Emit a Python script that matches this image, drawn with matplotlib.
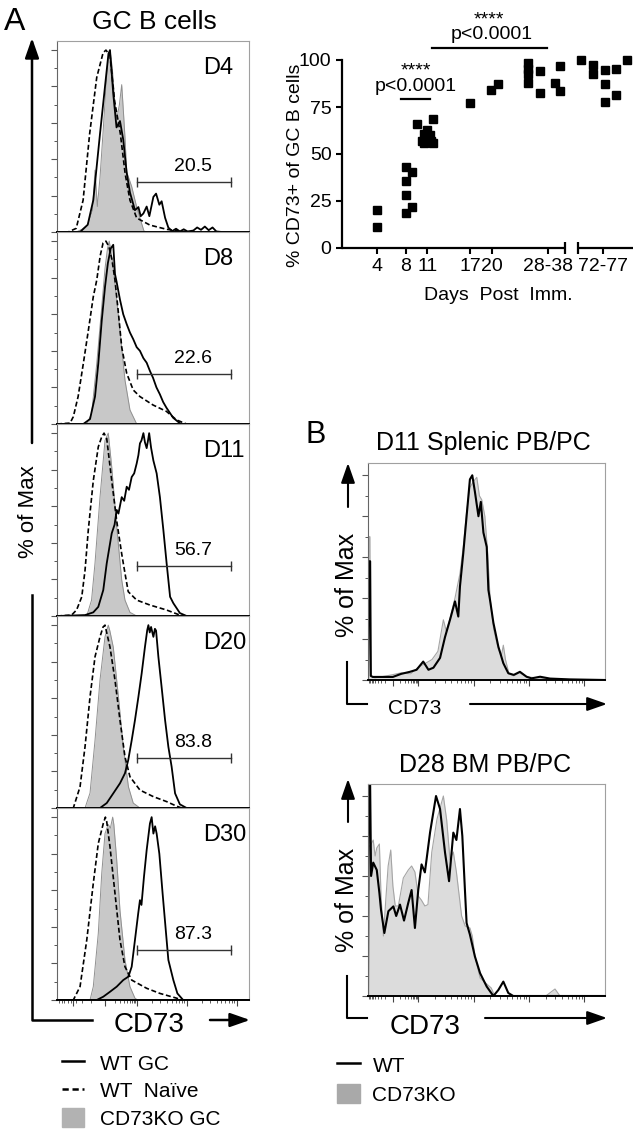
import numpy as np
from matplotlib import pyplot as plt
from matplotlib.lines import Line2D
from matplotlib.patches import Patch

plt.rcParams['font.family'] = ['Liberation Sans', 'DejaVu Sans']

W, H = 640, 1136

# ---- panel A: GC B cell histograms, (CD73 channel, % of max) ----
d4_ko = [(0, 0), (10, 0), (13, 1.5), (16, 4), (18.5, 12), (19.8, 34), (21, 14), (22.4, 30), (24, 55),
         (25.5, 80), (26.8, 97), (27.6, 100), (28.8, 90), (30, 72), (31.1, 62), (32.5, 70), (33.7, 81),
         (34.6, 66), (35.4, 52), (36.3, 33), (38.9, 25), (41.5, 13.7), (44.1, 4.6), (45.3, 0.5), (47, 0), (100, 0)]
d4_naive = [(0, 0), (5.8, 0), (10, 2), (13.6, 17.5), (17, 54), (20.7, 85), (24, 98.5), (25.5, 100), (27.6, 97),
            (30, 72), (33, 54), (35.5, 32), (38, 17.5), (41.5, 7.7), (48.4, 3.8), (57, 1.5), (62, 0.7), (70, 0), (100, 0)]
d4_gc = [(0, 0), (12, 0), (16, 4), (18.9, 17.5), (22.4, 54), (25, 80), (26.8, 98), (27.6, 100), (29.3, 76),
         (31, 57.5), (32.8, 61), (34.5, 50.8), (36.3, 32.6), (38, 21.7), (40.6, 12), (42.4, 13.7), (43.6, 8.7),
         (45, 10.2), (46.7, 14), (48.1, 8.7), (50.2, 19.3), (51.6, 21.1), (53.3, 15), (54.5, 16.9), (56.3, 7.8),
         (58, 2.4), (60, 0.5), (62, 1.8), (64, 0.3), (66, 1.5), (68, 0.3), (71, 0.8), (73, 2.5), (75, 1.2),
         (77, 3), (79, 1), (81, 2.5), (83, 0.3), (86, 0), (100, 0)]

d8_ko = [(0, 0), (15.5, 0), (18, 5.5), (20.7, 33), (23.3, 64), (25, 85), (26.3, 96), (27.2, 100), (28, 95),
         (29, 88), (30.2, 77), (32.8, 51), (35.4, 24), (38, 7.7), (41.5, 0), (100, 0)]
d8_naive = [(0, 0), (6.8, 0.5), (8.5, 4), (11, 15), (13.7, 33), (16.3, 51), (18.9, 69.6), (20.7, 78.7),
            (22.5, 92), (24, 99), (25.5, 100), (27, 97), (28.6, 90), (30.2, 78.7), (32, 60.6), (33.7, 42),
            (36.3, 27.7), (39.7, 18.6), (43.2, 15), (50, 10.4), (57, 6.9), (62.3, 2.2), (67.5, 0), (100, 0)]
d8_gc = [(0, 0), (13.7, 0), (17.2, 2.7), (19.8, 15), (21.5, 33), (23.3, 56.6), (25, 74.9), (26.5, 88), (28, 96),
         (29.3, 98), (30.2, 82), (31, 78), (32.8, 68), (34.5, 60), (36.3, 54.6), (38, 50), (39.7, 46.4),
         (41.5, 42), (43.2, 40), (45, 36), (46.7, 33.5), (48.4, 29), (50, 25.3), (51.8, 20), (53.6, 16.2),
         (55.3, 12), (57, 8.9), (60.5, 3.4), (64, 0.4), (66, 0), (100, 0)]

d11_ko = [(0, 0), (15.5, 0), (18, 8.7), (19.8, 29), (22.4, 65), (25, 96), (26.7, 100), (28.5, 81.6),
          (31.1, 48.8), (33.7, 19.7), (35.4, 8.7), (38, 2), (41.5, 0), (100, 0)]
d11_naive = [(0, 0), (7.6, 0.5), (10.2, 3.3), (12.9, 10.5), (14.6, 25), (16.3, 47), (18.9, 74), (21.5, 92.5),
             (23.3, 98), (24.5, 100), (25.9, 97), (28.5, 74), (31.1, 52), (33.7, 34), (35.4, 23.4), (37.1, 13.3),
             (41.5, 8.7), (48.4, 6), (57, 3.3), (64, 0.5), (67, 0), (100, 0)]
d11_gc = [(0, 0), (14.6, 0.5), (18.9, 2), (21.5, 5), (24.1, 14.2), (25.9, 28.8), (28.5, 45.2), (30, 50),
          (31.1, 58), (32, 56), (33.7, 65), (35, 63), (36.3, 70.7), (37.5, 69), (38.9, 76), (40.2, 78),
          (41.5, 83.4), (42.4, 88), (43.2, 94.4), (44, 96), (45, 100), (45.8, 95), (46.7, 91.8), (47.4, 96),
          (48, 100), (49, 92), (50.2, 85), (51.9, 78), (53.6, 65), (55.4, 47), (57.1, 28.8), (58.9, 10.5),
          (60.6, 7), (64, 1.6), (67.5, 0), (100, 0)]

d20_ko = [(0, 0), (14.6, 0), (17.2, 8.2), (19.8, 37), (22.4, 70), (25, 93.6), (26.7, 100), (27.5, 97),
          (29.3, 88), (32, 60.8), (34.5, 33.5), (37.2, 11.6), (39.7, 2.7), (43.2, 0), (100, 0)]
d20_naive = [(0, 0), (8.5, 0), (12, 11.6), (14.6, 33.5), (17.2, 60.8), (19.8, 82.7), (22.4, 93.6), (24, 99),
             (25, 100), (27.6, 88), (30.2, 70), (32.8, 48), (35.4, 28), (38, 17.1), (43.2, 9.8), (50.2, 6.2),
             (57.1, 3.5), (62.3, 1), (65, 0), (100, 0)]
d20_gc = [(0, 0), (22.4, 0), (25.9, 2.7), (29.3, 8), (32.8, 13.5), (35.4, 19), (37.1, 26.2), (38.9, 37),
          (40.6, 48), (42.4, 60.8), (44.1, 73.6), (45.8, 88), (47, 97.3), (47.6, 100), (48.3, 96), (49, 99),
          (50.2, 93.6), (51, 98), (51.6, 97), (52.8, 82.7), (54.5, 66), (56.3, 48), (58, 33.5), (59.7, 22.6),
          (61.5, 8), (64, 2), (67.5, 0), (100, 0)]

d30_ko = [(0, 0), (17.2, 0), (18.9, 7.3), (21.5, 36.4), (23.3, 69.2), (25, 91), (26.7, 96), (27.8, 94),
          (29, 100), (29.6, 96), (31.1, 76.5), (32.8, 49), (35.4, 21.9), (38, 7.3), (40.6, 1), (42, 0), (100, 0)]
d30_naive = [(0, 0), (8.5, 0), (12, 7.3), (15.5, 32.8), (18.9, 63.8), (21.5, 85.6), (24.1, 96.5), (25.2, 100),
             (25.9, 97.5), (27.6, 83.8), (30.2, 58.3), (32.8, 32.8), (35.4, 18.2), (38.9, 10.9), (46.7, 6.4),
             (53.6, 3.6), (62.3, 1), (65, 0), (100, 0)]
d30_gc = [(0, 0), (20.7, 0), (24.1, 1.8), (27.6, 4.5), (31.1, 7.3), (34.5, 10.9), (37.2, 12.8), (38.9, 18.2),
          (40.6, 32.8), (42.3, 47.4), (43.2, 54.6), (44, 52), (45.3, 67.4), (46.7, 82), (48.4, 96.5),
          (49.3, 100), (50.2, 91), (51.1, 95), (51.9, 91), (53.3, 80), (55, 58.3), (56.8, 36.4), (58, 21.9),
          (60.6, 10.9), (62.7, 3.6), (65.7, 0), (100, 0)]

day_names = ['D4', 'D8', 'D11', 'D20', 'D30']
gate_pct = ['20.5', '22.6', '56.7', '83.8', '87.3']
gate_lo, gate_hi, gate_level = 41.7, 90.6, 27.5

# ---- panel A: % CD73+ of GC B cells ----
tick_pos = [4, 8, 11, 17, 20, 27.75, 35.4]
tick_lab = ['4', '8', '11', '17', '20', '28-38', '72-77']
pct_x = [4, 4,
         8.1, 8.9, 8.0, 8.0, 8.9, 8.0,
         9.5, 11.8, 11.0, 10.6, 11.4, 11.1, 10.3, 10.9, 11.8, 10.5, 11.5,
         17,
         19.9, 20.8,
         25.0, 25.0, 25.0, 25.0, 26.6, 26.6, 28.7, 29.4, 29.5,
         32.4, 34.0, 34.0, 35.7, 35.7, 35.7, 37.2, 37.2, 38.7]
pct_y = [20, 11,
         43, 40.5, 35.4, 28.3, 21.8, 18.6,
         66, 68.5, 63, 60.5, 60, 58, 57, 56.5, 56, 56, 57,
         77,
         84, 87,
         98.2, 95, 92.6, 87.6, 94.3, 82.7, 88, 96.8, 83.7,
         100, 97.3, 92.6, 94.7, 87.3, 77.9, 95, 81.6, 100]
seg1 = (-0.86, 30.1)
seg2 = (31.9, 39.6)
sig1 = (7.4, 11.4, 79)
sig2 = (11.6, 27.6, 106.5)

# ---- panel B: plasma cell histograms ----
b1_ko = [(0, 0), (0.3, 70), (0.8, 70), (1.1, 2), (3, 1), (10, 2.5), (14, 3.5), (18, 3), (21, 6), (24, 8),
         (27, 10), (29.5, 14), (31.8, 29.4), (33, 24), (34.6, 30), (36.7, 40), (38.8, 52), (40.2, 65),
         (41.6, 82), (43, 94), (44.5, 97), (45.9, 99), (47, 90), (48, 88), (49.3, 80), (50.5, 62), (51.5, 40),
         (53, 25), (55, 15), (56.3, 12), (57.1, 17), (58, 10), (59.5, 3), (61.5, 2), (64, 3.5), (67, 1.5),
         (72, 1), (80, 0.3), (100, 0)]
b1_wt = [(0, 0), (0.4, 58), (0.9, 58), (1.2, 2), (2, 1.5), (10.5, 1.5), (14, 3), (17.7, 4), (20.5, 5),
         (23.3, 9), (25.5, 5), (27.6, 6), (30.4, 10.8), (32.5, 21), (34.6, 29.4), (36.7, 38.4), (38.1, 31),
         (38.8, 45.7), (40.2, 62), (41.6, 80), (43, 98), (44, 100), (45.1, 92), (46.6, 80), (47.6, 87),
         (48.7, 72), (50.1, 65), (50.8, 44), (51.5, 39), (52.9, 28), (55, 16.3), (57.1, 8.2), (59.2, 3.3),
         (61.5, 2.5), (64.1, 4), (66.9, 1.6), (69, 0.8), (72.6, 1.6), (76.8, 0.7), (85, 0.3), (100, 0)]
b2_ko = [(0, 0), (0.3, 75), (1, 75), (2.2, 78), (3, 70), (3.7, 74), (4.8, 76), (5.5, 50), (6.5, 30), (7.5, 48),
         (8.5, 65), (9.6, 73), (10.5, 55), (11.5, 45), (12.8, 45), (14.9, 59), (17, 63), (18.4, 65), (19.8, 62),
         (21.2, 50), (22.5, 48), (24, 45), (25.3, 45.7), (26.9, 71.8), (29.1, 88.4), (31.8, 100), (33.2, 88),
         (34.6, 68), (36, 72), (37.3, 62), (38.5, 50), (39.5, 40), (41, 35), (43, 34), (44, 30), (45.1, 20),
         (47.3, 9), (50.1, 6), (52, 4), (53.5, 0), (75, 0), (78.9, 3.5), (81, 0), (100, 0)]
b2_wt = [(0, 0), (0.3, 106), (0.9, 106), (1.3, 60), (2.2, 66.7), (3.7, 63), (4.8, 51.6), (5.5, 43), (6.9, 31.5),
         (8.6, 42.4), (10.7, 44.8), (11.9, 40), (13.5, 45.7), (15.2, 37.7), (17, 46.6), (18.4, 53), (19.8, 34),
         (21.2, 53), (22.6, 65.8), (24, 61.8), (26.2, 81.9), (28.7, 100), (30.4, 93.5), (32.5, 71.7),
         (34.2, 57.4), (36, 81.7), (37.3, 78), (38.8, 93.5), (39.8, 80), (40.9, 53), (41.6, 36.5), (43, 30.7),
         (45.1, 19.8), (47.3, 11.4), (50.1, 4.7), (52.9, 0), (55, 3), (57.1, 7.2), (59.2, 1.5), (61.3, 0),
         (100, 0)]

fig = plt.figure(figsize=(6.4, 11.36), dpi=100)


def box(x0, y0, x1, y1, **kw):
    return fig.add_axes([x0 / W, 1 - y1 / H, (x1 - x0) / W, (y1 - y0) / H], **kw)


def log_ticks(zero, starts, step):
    major = list(starts)
    minor = []
    for a in starts[:-1]:
        minor += [a + step * np.log10(k) for k in range(2, 10)]
    minor += [zero + (starts[0] - zero) * np.log10(k) for k in range(2, 10)]
    minor += [zero - zero * np.log10(k) for k in range(2, 10)]
    return major + [zero], minor


def frame(ax, ymax):
    ax.set_xlim(0, 100)
    ax.set_ylim(0, ymax)
    for s in ['top', 'right']:
        ax.spines[s].set_color('#a0a0a0')
        ax.spines[s].set_linewidth(0.8)
    ax.spines['left'].set_color('#666666')
    ax.spines['left'].set_linewidth(0.8)
    ax.spines['bottom'].set_color('k')
    ax.spines['bottom'].set_linewidth(1.4)
    ax.set_yticks(np.arange(0, 101, 20))
    ax.set_yticks(np.arange(10, 100, 20), minor=True)
    ax.tick_params(axis='y', which='major', length=4, width=0.8, color='#555555', labelleft=False)
    ax.tick_params(axis='y', which='minor', length=2.5, width=0.7, color='#555555')
    ax.set_xticks([])


# ---- panel A histograms ----
panels = [(d4_ko, d4_naive, d4_gc), (d8_ko, d8_naive, d8_gc), (d11_ko, d11_naive, d11_gc),
          (d20_ko, d20_naive, d20_gc), (d30_ko, d30_naive, d30_gc)]
tops = [41, 232, 424, 616, 808, 1000]
for i, (ko, naive, gc) in enumerate(panels):
    ax = box(57, tops[i], 249, tops[i + 1])
    frame(ax, 105)
    u, v = np.array(ko).T
    ax.fill_between(u, v, color='#c8c8c8', lw=0)
    ax.plot(u, v, color='#909090', lw=0.7)
    u, v = np.array(naive).T
    ax.plot(u, v, color='k', lw=1.2, ls=(0, (3, 1.6)))
    u, v = np.array(gc).T
    ax.plot(u, v, color='k', lw=1.3)
    ax.plot([gate_lo, gate_hi], [gate_level, gate_level], color='#333333', lw=1,
            marker='|', ms=7, mew=1)
    ax.text(71, gate_level + 8.5, gate_pct[i], fontsize=14, ha='center', va='center')
    ax.text(76, 90, day_names[i], fontsize=17, ha='left', va='center')
    if i == 4:
        major, minor = log_ticks(25, [41.5, 67.5, 93.5], 26)
        ax.set_xticks(major + [8.5])
        ax.set_xticks(minor, minor=True)
        ax.tick_params(axis='x', which='major', length=4, width=0.8, color='#444444', labelbottom=False)
        ax.tick_params(axis='x', which='minor', length=2.5, width=0.6, color='#444444')

# ---- scatter ----
ax = box(342, 60, 633, 248)
ax.plot(pct_x, pct_y, ls='none', marker='s', ms=6, color='k', clip_on=False)
ax.set_xlim(seg1[0], seg2[1])
ax.set_ylim(0, 100)
for s in ['top', 'right', 'bottom']:
    ax.spines[s].set_visible(False)
ax.spines['left'].set_linewidth(1.6)
ax.set_yticks([0, 25, 50, 75, 100])
ax.set_xticks(tick_pos)
ax.set_xticklabels(tick_lab)
ax.tick_params(labelsize=14, length=4.5, width=1.5, pad=3)
bt = ax.get_xaxis_transform()
for a, b in [seg1, seg2]:
    ax.plot([a, b], [0, 0], color='k', lw=1.6, transform=bt, clip_on=False, solid_capstyle='butt')
ax.plot([seg1[1], seg2[0]], [0, 0], ls='none', marker='|', ms=8, mew=1.6, color='k',
        transform=bt, clip_on=False)
for x0, x1, y in [sig1, sig2]:
    ax.plot([x0, x1], [y, y], color='k', lw=1.6, clip_on=False)
    ax.text((x0 + x1) / 2 + (0.3 if y > 100 else 0), y + 7, 'p<0.0001', fontsize=14,
            ha='center', va='center')
    ax.text((x0 + x1) / 2, y + 15, '****', fontsize=14, ha='center', va='center')

# ---- panel B histograms ----
for (ko, wt), (y0, y1) in zip([(b1_ko, b1_wt), (b2_ko, b2_wt)], [(463, 680), (784, 996)]):
    ax = box(368, y0, 605, y1)
    frame(ax, 106)
    u, v = np.array(ko).T
    ax.fill_between(u, v, color='#dcdcdc', lw=0)
    ax.plot(u, v, color='#a5a5a5', lw=0.8)
    u, v = np.array(wt).T
    ax.plot(u, v, color='k', lw=1.5)
    major, minor = log_ticks(10.4, [21.2, 44.6, 67.9, 91.2], 23.3)
    ax.set_xticks(major)
    ax.set_xticks(minor, minor=True)
    ax.tick_params(axis='x', which='major', length=4, width=0.8, color='#444444', labelbottom=False)
    ax.tick_params(axis='x', which='minor', length=2.5, width=0.6, color='#444444')

# ---- overlay: labels, axis arrows ----
ov = box(0, 0, W, H, zorder=10)
ov.set_xlim(0, W)
ov.set_ylim(H, 0)
ov.axis('off')


def arrow(x0, y0, x1, y1, lw=1.6):
    ov.annotate('', xy=(x1, y1), xytext=(x0, y0),
                arrowprops=dict(arrowstyle='-|>,head_length=0.8,head_width=0.28', mutation_scale=15,
                                lw=lw, color='k', shrinkA=0, shrinkB=0))


arrow(32, 443, 32, 38, lw=1.8)
ov.plot([32, 32, 92], [595, 1020, 1020], color='k', lw=1.8)
arrow(210, 1020, 250, 1020, lw=1.8)
ov.text(29, 512, '% of Max', rotation=90, fontsize=16, ha='center', va='center')
ov.text(149, 1025, 'CD73', fontsize=20, ha='center', va='center')
ov.text(4, 22, 'A', fontsize=23, ha='left', va='center')
ov.text(154, 22, 'GC B cells', fontsize=19, ha='center', va='center')

ov.text(295, 165, '% CD73+ of GC B cells', rotation=90, fontsize=14, ha='center', va='center')
ov.text(498, 296, 'Days  Post  Imm.', fontsize=14, ha='center', va='center')

ov.text(305, 435, 'B', fontsize=22, ha='left', va='center')
ov.text(483, 443, 'D11 Splenic PB/PC', fontsize=18, ha='center', va='center')
ov.text(485, 765, 'D28 BM PB/PC', fontsize=18, ha='center', va='center')
for ya, yb, yt, yl in [(507, 463, 585, 662), (822, 779, 900, 976)]:
    arrow(348, ya, 348, yb, lw=1.5)
    ov.text(347, yt, '% of Max', rotation=90, fontsize=18, ha='center', va='center')
    ov.plot([347, 347, 367], [yl, yl + 42, yl + 42], color='k', lw=1.5)
arrow(470, 704, 607, 704, lw=1.5)
arrow(485, 1018, 607, 1018, lw=1.5)
ov.text(415, 708, 'CD73', fontsize=15, ha='center', va='center')
ov.text(425, 1027, 'CD73', fontsize=20, ha='center', va='center')

# ---- legends ----
fig.legend([Line2D([], [], color='k', lw=1.8), Line2D([], [], color='k', lw=1.8, ls=(0, (2.5, 1.5))),
            Patch(facecolor='#b2b2b2', edgecolor='#b2b2b2')],
           ['WT GC', 'WT  Naïve', 'CD73KO GC'], loc='upper left', bbox_to_anchor=(62 / W, 1 - 1053 / H),
           frameon=False, fontsize=15, handlelength=1.05, handleheight=1.05, handletextpad=0.75,
           labelspacing=0.32, borderpad=0, borderaxespad=0)
fig.legend([Line2D([], [], color='k', lw=1.8), Patch(facecolor='#a9a9a9', edgecolor='#a9a9a9')],
           ['WT', 'CD73KO'], loc='upper left', bbox_to_anchor=(337 / W, 1 - 1055 / H),
           frameon=False, fontsize=15, handlelength=1.1, handleheight=1.05, handletextpad=0.6,
           labelspacing=0.4, borderpad=0, borderaxespad=0)

fig.savefig('out.png', dpi=100)
